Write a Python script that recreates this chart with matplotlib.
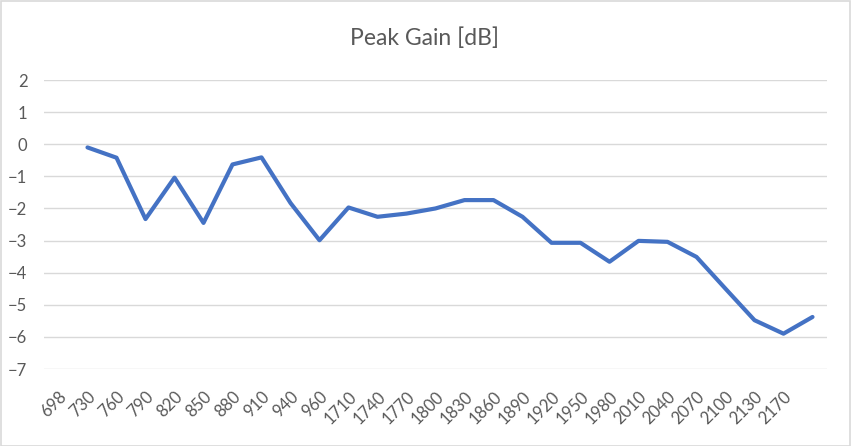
import numpy as np
import matplotlib.pyplot as plt

# categories as on the chart (last category has no label)
freqs = ['698', '730', '760', '790', '820', '850', '880', '910', '940', '960',
         '1710', '1740', '1770', '1800', '1830', '1860', '1890', '1920', '1950',
         '1980', '2010', '2040', '2070', '2100', '2130', '2170', '']
gain = [np.nan, -0.10, -0.42, -2.33, -1.04, -2.45, -0.63, -0.41, -1.83, -2.99,
        -1.97, -2.26, -2.16, -2.00, -1.74, -1.74, -2.26, -3.07, -3.07,
        -3.66, -3.01, -3.04, -3.51, -4.50, -5.48, -5.90, -5.38]

txt = '#595959'
plt.rcParams['font.family'] = ['Lato', 'DejaVu Sans']

fig = plt.figure(figsize=(8.51, 4.46), dpi=100)
W, H = 851, 446
ax = fig.add_axes([44 / W, (H - 369) / H, (827 - 44) / W, (369 - 80) / H])

x = np.arange(len(freqs))
ax.plot(x, gain, color='#4472C4', lw=3.0, solid_joinstyle='round', solid_capstyle='round')

ax.set_xlim(-0.5, len(freqs) - 0.5)
ax.set_ylim(-7, 2)
ax.set_yticks(range(-7, 3))
ax.set_xticks(x)
ax.set_xticklabels(freqs, rotation=45, ha='right', rotation_mode='anchor')
ax.grid(axis='y', color='#d9d9d9', lw=1)
ax.set_axisbelow(True)
for s in ax.spines.values():
    s.set_visible(False)
ax.tick_params(axis='both', length=0, colors=txt, labelsize=12)
ax.tick_params(axis='x', pad=14)
ax.tick_params(axis='y', pad=12)

fig.text(425 / W, 1 - 38 / H, 'Peak Gain [dB]', ha='center', va='center',
         fontsize=16.5, color=txt)

fig.patches.append(plt.Rectangle((0.5 / W, 0.5 / H), 1 - 1.5 / W, 1 - 1.5 / H,
                                 transform=fig.transFigure, fill=False,
                                 edgecolor='#d9d9d9', lw=1.2))

fig.savefig('out.png', dpi=100)
